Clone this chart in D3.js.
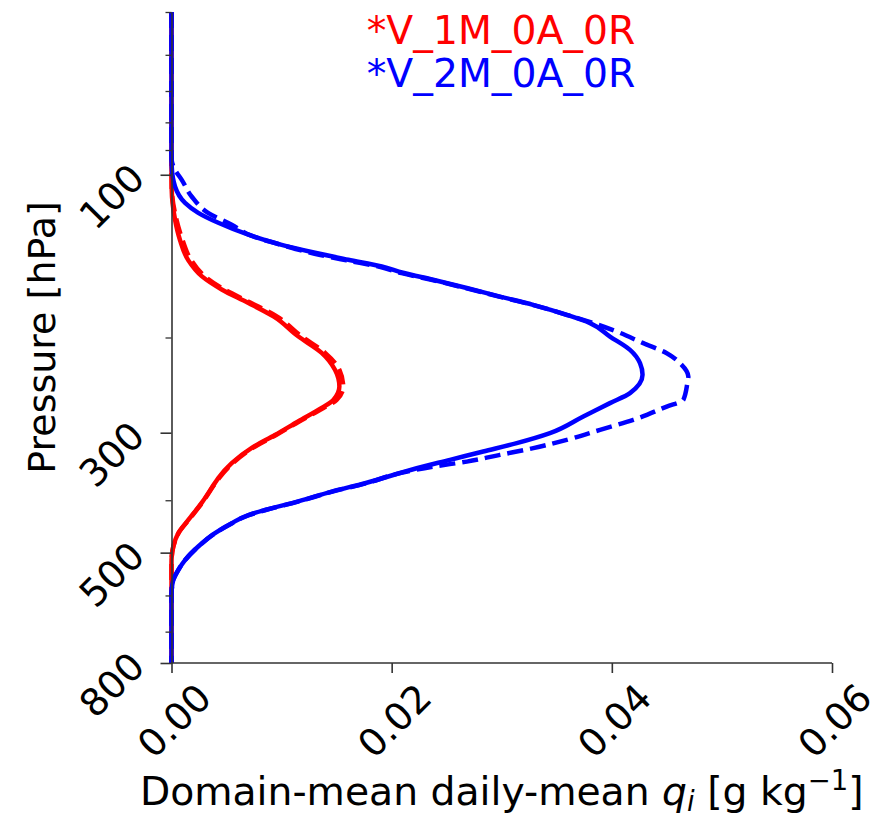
<!DOCTYPE html>
<html>
<head>
<meta charset="utf-8">
<script src="https://cdn.jsdelivr.net/npm/d3@7"></script>
<style>
  html, body { margin: 0; padding: 0; background: #fff; }
  svg { display: block; font-family: "DejaVu Sans", sans-serif; }
</style>
</head>
<body>
<svg id="chart" width="882" height="817"></svg>
<script>
// ---------------- data ----------------
const seriesNames = ["*V_1M_0A_0R", "*V_2M_0A_0R"];
const seriesColors = ["#ff0000", "#0000ff"];

// pressure levels [hPa] and qi [g/kg]
const red1P = [50, 96, 100, 106.6, 121, 132, 144, 154, 163, 172.5, 183, 199, 213.5, 229.5, 246.5, 261, 270, 286, 303, 320, 341.6, 364, 371.5, 404.5, 435, 460, 487, 508.5, 520, 800];
const red1Q = [0, 0, 0.00001, 0.00002, 0.00032, 0.00077, 0.00153, 0.00274, 0.00456, 0.00695, 0.0093, 0.0115, 0.01364, 0.01485, 0.01525, 0.0147, 0.01364, 0.0115, 0.0094, 0.00729, 0.00547, 0.00425, 0.00395, 0.00274, 0.00153, 0.00062, 0.00016, 0.00002, 0, 0];

const red2P = [50, 96, 100, 106.6, 121, 132, 144, 154, 163, 172.5, 183, 199, 213.5, 229.5, 246.5, 261, 270, 286, 303, 320, 341.6, 364, 371.5, 404.5, 435, 460, 487, 508.5, 520, 800];
const red2Q = [0, 0, 0.00001, 0.00003, 0.00045, 0.00100, 0.00180, 0.00300, 0.00480, 0.00720, 0.0096, 0.0118, 0.01395, 0.01525, 0.01560, 0.0150, 0.01380, 0.0116, 0.0095, 0.00738, 0.00555, 0.00432, 0.00400, 0.00278, 0.00156, 0.00064, 0.00017, 0.00002, 0, 0];

const blue1P = [50, 92, 96.5, 105.1, 112.7, 117.6, 122.7, 129.1, 134.8, 139.4, 143.6, 147.8, 151.8, 156.4, 162, 168, 174, 181.6, 188.1, 199.2, 210.8, 223.1, 234.5, 253.5, 264.5, 280, 300.6, 313.7, 325, 336.8, 349, 372, 385.5, 402, 417, 426, 441, 460, 487, 516, 538, 562, 586, 600, 800];
const blue1Q = [0, 0, 0.00002, 0.00032, 0.00123, 0.00243, 0.00425, 0.00698, 0.01001, 0.01304, 0.01606, 0.0191, 0.02103, 0.02376, 0.02682, 0.02984, 0.03284, 0.0359, 0.03802, 0.03983, 0.04165, 0.04256, 0.04279, 0.04165, 0.03983, 0.03741, 0.03438, 0.03136, 0.02832, 0.0253, 0.02227, 0.01758, 0.01455, 0.01152, 0.00849, 0.00698, 0.00547, 0.00395, 0.00243, 0.00123, 0.00062, 0.00016, 0.00002, 0, 0];

const blue2P = [50, 90, 94, 97.9, 102.2, 109.7, 117.6, 123.7, 129.5, 135, 140, 144, 148, 152, 156.4, 162, 168, 174, 181.6, 188.1, 195, 204.9, 213.8, 223.1, 236.2, 242.9, 261, 268.4, 284, 296.4, 309.3, 320.4, 329.7, 339.3, 346.6, 356.4, 372, 385.5, 402, 417, 426, 441, 460, 487, 516, 538, 562, 586, 600, 800];
const blue2Q = [0, 0, 0.00002, 0.00032, 0.00093, 0.00183, 0.00332, 0.00547, 0.00720, 0.01010, 0.01300, 0.01590, 0.01890, 0.02090, 0.02360, 0.02670, 0.02975, 0.03280, 0.0359, 0.03830, 0.04044, 0.04286, 0.04499, 0.04619, 0.04695, 0.04686, 0.04649, 0.04499, 0.04195, 0.03893, 0.0359, 0.03287, 0.02984, 0.02682, 0.02378, 0.02076, 0.01768, 0.01462, 0.01158, 0.00855, 0.00703, 0.00551, 0.00398, 0.00245, 0.00124, 0.00063, 0.00016, 0.00002, 0, 0];

const xTicks = [0, 0.02, 0.04, 0.06];
const xTickLabels = ["0.00", "0.02", "0.04", "0.06"];
const yMajorTicks = [100, 300, 500, 800];
const yMinorTicks = [50, 60, 70, 80, 90, 200, 400, 600, 700];

// ---------------- layout ----------------
const svg = d3.select("#chart");
const mLeft = 171.5, mRight = 832, mTop = 12, mBottom = 663;
const x = d3.scaleLinear().domain([0, 0.06]).range([mLeft, mRight]);
const y = d3.scaleLog().domain([50, 800]).range([mTop, mBottom]);
const fs = 38;
const fsH = 39.3;

// curves
const line = d3.line().x(d => x(d[1])).y(d => y(d[0])).curve(d3.curveMonotoneY);
const curves = [
  {p: red2P, q: red2Q, color: seriesColors[0], dash: "16,7"},
  {p: red1P, q: red1Q, color: seriesColors[0], dash: null},
  {p: blue2P, q: blue2Q, color: seriesColors[1], dash: "16,7"},
  {p: blue1P, q: blue1Q, color: seriesColors[1], dash: null}
];
curves.forEach(c => {
  const pts = c.p.map((p, i) => [p, c.q[i]]);
  svg.append("path")
    .attr("d", line(pts))
    .attr("fill", "none")
    .attr("stroke", c.color)
    .attr("stroke-width", 4.5)
    .attr("stroke-linejoin", "round")
    .attr("stroke-dasharray", c.dash);
});

// axes
const axisColor = "#333";
const xAxis = d3.axisBottom(x).tickValues(xTicks).tickFormat("").tickSize(10).tickSizeOuter(0);
const gx = svg.append("g").attr("transform", `translate(0,${mBottom})`).call(xAxis);
gx.select(".domain").attr("stroke", axisColor).attr("stroke-width", 1.6).attr("d", `M${mLeft - 0.5},0H${mRight}`);
gx.selectAll(".tick line").attr("stroke", axisColor).attr("stroke-width", 1.6);

const yAxisMajor = d3.axisLeft(y).tickValues(yMajorTicks).tickFormat("").tickSize(11).tickSizeOuter(0);
const gy = svg.append("g").attr("transform", `translate(${mLeft},0)`).call(yAxisMajor);
gy.select(".domain").attr("stroke", axisColor).attr("stroke-width", 1.6);
gy.selectAll(".tick line").attr("stroke", axisColor).attr("stroke-width", 1.6);

const yAxisMinor = d3.axisLeft(y).tickValues(yMinorTicks).tickFormat("").tickSize(6).tickSizeOuter(0);
const gym = svg.append("g").attr("transform", `translate(${mLeft},0)`).call(yAxisMinor);
gym.select(".domain").remove();
gym.selectAll(".tick line").attr("stroke", axisColor).attr("stroke-width", 1.3);

// tick labels (rotated 45 deg)
svg.append("g").selectAll("text").data(xTicks).join("text")
  .attr("transform", (d) => `translate(${x(d) + 3},${721}) rotate(-45)`)
  .attr("text-anchor", "middle")
  .attr("dominant-baseline", "central")
  .attr("font-size", fs)
  .attr("fill", "#000")
  .text((d, i) => xTickLabels[i]);

svg.append("g").selectAll("text").data(yMajorTicks).join("text")
  .attr("transform", d => `translate(${112},${y(d) + 22}) rotate(-45)`)
  .attr("text-anchor", "middle")
  .attr("dominant-baseline", "central")
  .attr("font-size", fs)
  .attr("fill", "#000")
  .text(d => d3.format("d")(d));

// axis titles
svg.append("text")
  .attr("transform", `translate(55,${(mTop + mBottom) / 2}) rotate(-90)`)
  .attr("text-anchor", "middle")
  .attr("font-size", fs)
  .attr("fill", "#000")
  .text("Pressure [hPa]");

const xl = svg.append("text")
  .attr("x", (mLeft + mRight) / 2)
  .attr("y", 805)
  .attr("text-anchor", "middle")
  .attr("font-size", fsH)
  .attr("fill", "#000");
xl.append("tspan").text("Domain-mean daily-mean ");
xl.append("tspan").attr("font-style", "italic").text("q");
xl.append("tspan").attr("font-style", "italic").attr("font-size", fsH * 0.7).attr("dy", 6).text("i");
xl.append("tspan").attr("dy", -6).text(" [g kg");
xl.append("tspan").attr("font-size", fsH * 0.7).attr("dy", -15).text("\u22121");
xl.append("tspan").attr("dy", 15).text("]");

// legend
seriesNames.forEach((n, i) => {
  svg.append("text")
    .attr("x", 501)
    .attr("y", 44 + i * 43)
    .attr("text-anchor", "middle")
    .attr("font-size", fsH)
    .attr("fill", seriesColors[i])
    .text(n);
});
</script>
</body>
</html>
